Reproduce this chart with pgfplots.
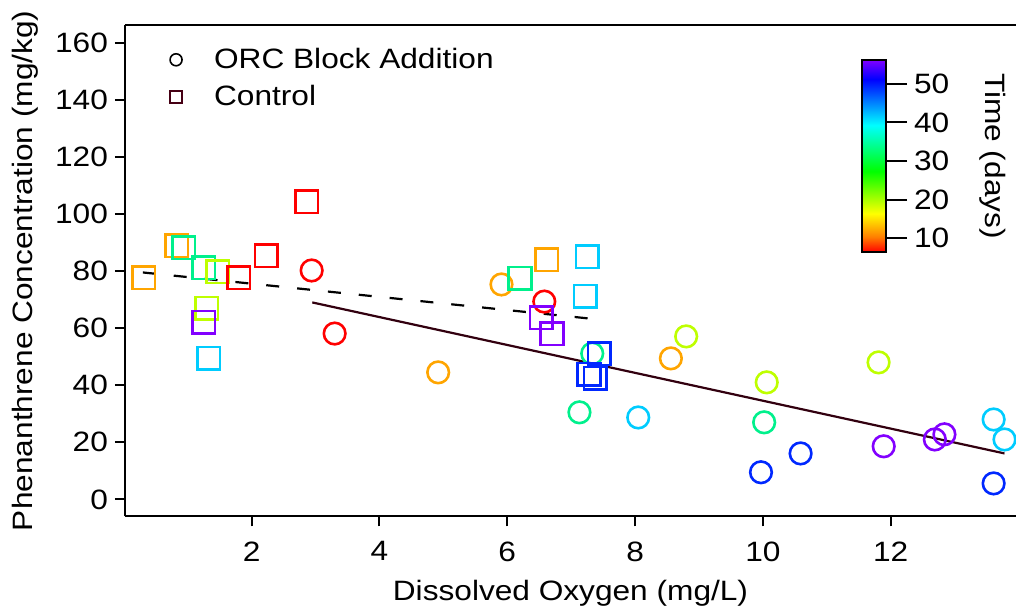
\documentclass[border=0pt]{standalone}
\usepackage{fontspec}
\setmainfont{Liberation Sans}[FakeStretch=1.13]
\usepackage{pgfplots}
\pgfplotsset{compat=1.18}
\usepackage{pgfplotstable}

\definecolor{c7}{RGB}{255,0,0}
\definecolor{c14}{RGB}{255,165,0}
\definecolor{c21}{RGB}{190,255,0}
\definecolor{c35}{RGB}{0,240,140}
\definecolor{c42}{RGB}{0,204,255}
\definecolor{c49}{RGB}{0,40,255}
\definecolor{c56}{RGB}{130,0,255}
\definecolor{fitline}{RGB}{50,0,15}
\definecolor{ctrlleg}{RGB}{70,0,20}
\newcommand{\fs}{\fontsize{14}{17}\selectfont}

% ORC Block Addition (circles)
\pgfplotstableread{
x y c
2.94 80.2 d7
3.30 58.1 d7
4.92 44.5 d14
5.91 75.3 d14
6.58 69.3 d7
7.33 51.1 d35
7.13 30.5 d35
8.05 28.7 d42
8.56 49.4 d14
8.80 57.1 d21
10.06 41.0 d21
10.02 27.0 d35
9.97 9.5 d49
10.59 16.1 d49
11.81 48.0 d21
11.89 18.6 d56
12.69 21.0 d56
12.84 22.8 d56
13.61 28.0 d42
13.78 21.0 d42
13.61 5.6 d49
}\orc

% Control (squares)
\pgfplotstableread{
x y c
0.31 77.7 d14
0.83 88.9 d14
0.94 88.2 d35
1.25 81.2 d35
1.47 79.8 d21
1.80 77.7 d7
2.23 85.4 d7
2.86 104.3 d7
1.30 66.9 d21
1.25 62.0 d56
1.33 49.4 d42
6.20 77.4 d35
6.62 84.0 d14
7.25 85.0 d42
7.22 71.1 d42
6.53 63.7 d56
6.70 58.1 d56
7.44 51.1 d49
7.28 43.8 d49
7.38 42.4 d49
}\ctrl

\begin{document}
\begin{tikzpicture}
\begin{axis}[
  name=ax,
  scale only axis, width=445.5pt, height=245.7pt,
  xmin=0.02, xmax=13.96, ymin=-5.96, ymax=166.2,
  separate axis lines,
  axis x line*=box, axis y line*=left,
  axis line style={line width=1pt, -},
  xtick={2,4,6,8,10,12}, ytick={0,20,40,60,80,100,120,140,160},
  xtick pos=left, ytick pos=left,
  tick align=outside, major tick length=5pt,
  tick style={line width=1pt, black},
  every tick label/.append style={font=\fs},
  xticklabel style={yshift=-4pt},
  /pgf/number format/assume math mode=true,
  xlabel={Dissolved Oxygen (mg/L)},
  ylabel={Phenanthrene Concentration (mg/kg)},
  every axis label/.append style={font=\fs},
  xlabel style={at={(axis description cs:0.5,-0.156)}, anchor=center},
  ylabel style={at={(axis description cs:-0.112,0.5)}, anchor=center},
  colormap={igor}{rgb255(0pt)=(255,0,0) rgb255(4pt)=(255,128,0) rgb255(10pt)=(255,255,0) rgb255(21pt)=(0,255,0) rgb255(33pt)=(0,255,255) rgb255(45pt)=(0,0,255) rgb255(50pt)=(128,0,255)},
  point meta min=6.4, point meta max=56.2,
  colorbar,
  colorbar style={
    at={(parent axis.north west)}, anchor=north west,
    xshift=360pt, yshift=-17.5pt,
    scale only axis, width=12pt, height=96pt,
    ytick={10,20,30,40,50},
    yticklabel pos=right, ytick pos=right,
    tick align=outside, major tick length=10.5pt,
    tick style={line width=1pt, black},
    axis line style={line width=1pt},
    every tick label/.append style={font=\fs},
    /pgf/number format/assume math mode=true,
    ylabel={Time (days)},
    ylabel style={font=\fs, rotate=180, at={(axis description cs:5.45,0.5)}, anchor=center},
  },
  legend style={at={(axis description cs:0.0434,0.97)}, anchor=north west, draw=none, fill=none, font=\fs, row sep=3pt},
  legend cell align=left,
  legend image code/.code={\draw[#1] plot coordinates {(0pt,0pt)}; \path[draw=none] (0pt,0pt) (17pt,0pt);},
]
\addplot[scatter, only marks, scatter src=explicit symbolic, mark=o, mark size=5.4pt, line width=1.3pt, forget plot,
  scatter/classes={d7={c7}, d14={c14}, d21={c21}, d35={c35}, d42={c42}, d49={c49}, d56={c56}}]
  table[x=x, y=y, meta=c] {\orc};
\addplot[scatter, only marks, scatter src=explicit symbolic, mark=square, mark size=5.65pt, line width=1.3pt, forget plot,
  scatter/classes={d7={c7}, d14={c14}, d21={c21}, d35={c35}, d42={c42}, d49={c49}, d56={c56}}]
  table[x=x, y=y, meta=c] {\ctrl};
\addplot[fitline, line width=1.1pt, forget plot] coordinates {(2.95,69.0) (13.78,16.1)};
\addplot[black, line width=1.1pt, dash pattern=on 6.5pt off 9pt, forget plot] coordinates {(0.30,79.5) (7.27,63.4)};
\addlegendimage{only marks, mark=o, black, mark size=3pt, line width=0.8pt}
\addlegendentry{ORC Block Addition}
\addlegendimage{only marks, mark=square, ctrlleg, mark size=3pt, line width=0.8pt}
\addlegendentry{Control}
\end{axis}
\pgfresetboundingbox
\path[use as bounding box] ([shift={(-62.5pt,-46.35pt)}]ax.south west) rectangle ([shift={(0pt,12.5pt)}]ax.north east);
\end{tikzpicture}
\end{document}
